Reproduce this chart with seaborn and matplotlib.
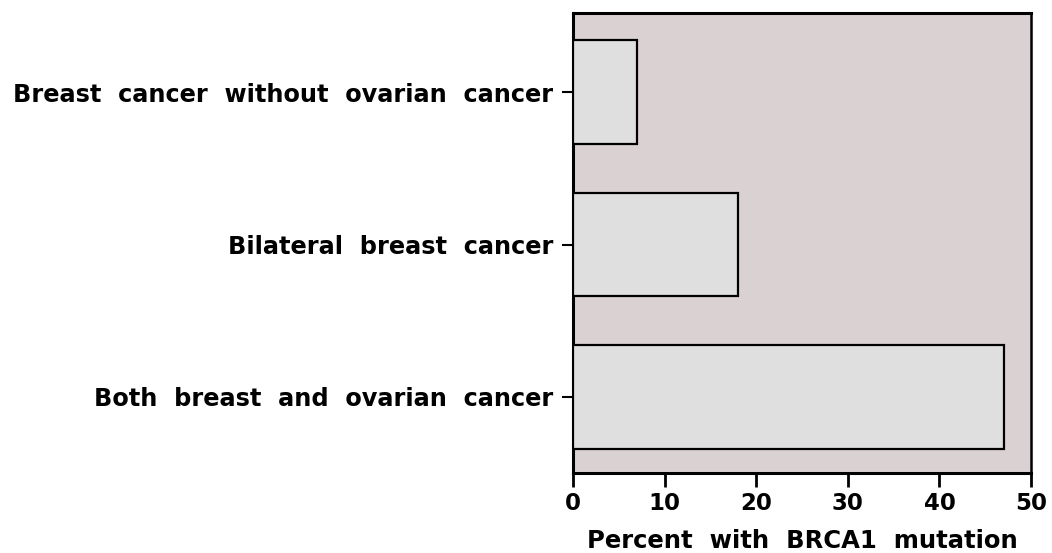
import pandas as pd
import matplotlib
matplotlib.use('Agg')
import matplotlib.pyplot as plt
import seaborn as sns

groups = ['Breast  cancer  without  ovarian  cancer',
          'Bilateral  breast  cancer',
          'Both  breast  and  ovarian  cancer']
percent = [7, 18, 47]
x_ticks = [0, 10, 20, 30, 40, 50]

df = pd.DataFrame({'group': groups, 'percent': percent})

sns.set_style('ticks')
plt.rcParams['font.family'] = ['DejaVu Sans']
plt.rcParams['font.weight'] = 'bold'
plt.rcParams['text.color'] = 'black'
plt.rcParams['axes.labelcolor'] = 'black'
plt.rcParams['xtick.color'] = 'black'
plt.rcParams['ytick.color'] = 'black'

fig = plt.figure(figsize=(10.52, 5.53), dpi=100)
ax = fig.add_axes([0.5447, 0.1447, 0.4354, 0.8318])
ax.set_facecolor('#dad1d3')

sns.barplot(data=df, x='percent', y='group', orient='h', color='#dfdfdf',
            edgecolor='black', linewidth=1.6, width=0.68, saturation=1,
            ax=ax, zorder=3)

ax.set_xlim(0, 50)
ax.set_ylim(2.5, -0.52)
ax.set_xticks(x_ticks)
ax.set_xticklabels([str(t) for t in x_ticks], fontsize=16.5, fontweight='bold')
ax.set_yticklabels(groups, fontsize=17.3, fontweight='bold')
ax.set_xlabel('Percent  with  BRCA1  mutation', fontsize=17.5, fontweight='bold', labelpad=10)
ax.set_ylabel('')

for side in ['left', 'bottom', 'top']:
    ax.spines[side].set_linewidth(2.2)
    ax.spines[side].set_color('black')
ax.spines['right'].set_linewidth(1.8)
ax.spines['right'].set_color('black')

ax.tick_params(axis='y', length=8, width=1.5, pad=6)
ax.tick_params(axis='x', length=10, width=2, pad=3.5)

plt.savefig('out.png', dpi=100)
